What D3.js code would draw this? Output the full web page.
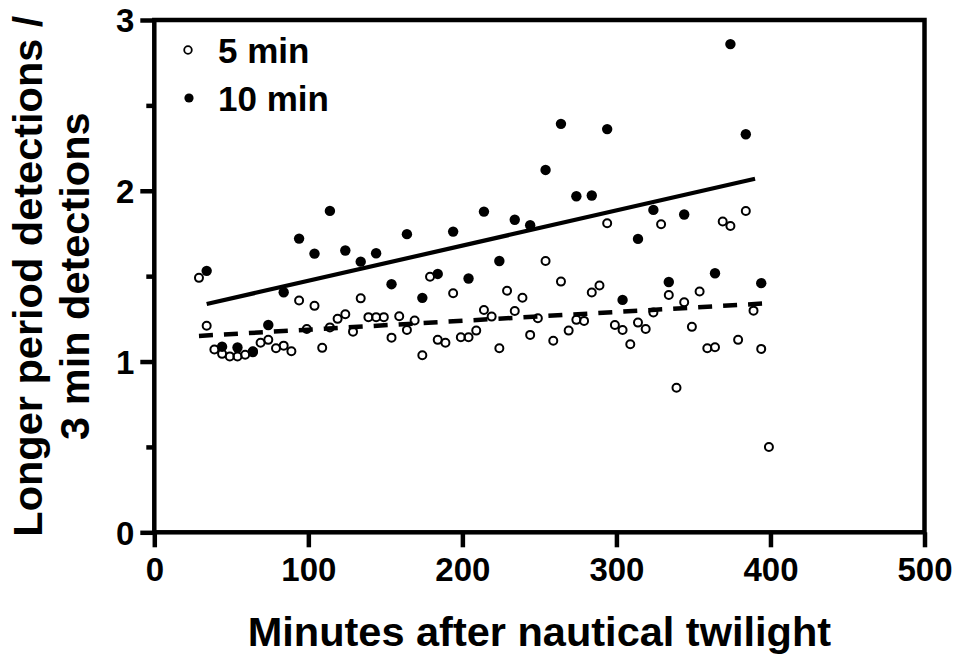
<!DOCTYPE html>
<html>
<head>
<meta charset="utf-8">
<script src="https://cdn.jsdelivr.net/npm/d3@7"></script>
<style>
  body { margin: 0; background: #fff; }
  svg text { font-family: "Liberation Sans", Arial, sans-serif; font-weight: bold; fill: #000; }
</style>
</head>
<body>
<div id="chart"></div>
<script>
// 5 min series (open circles), one point every 5 minutes
var minutes5 = [29, 34, 39, 44, 49, 54, 59, 64, 69, 74, 79, 84, 89, 94, 99, 104, 109, 114, 119, 124,
  129, 134, 139, 144, 149, 154, 159, 164, 169, 174, 179, 184, 189, 194, 199, 204, 209, 214, 219, 224,
  229, 234, 239, 244, 249, 254, 259, 264, 269, 274, 279, 284, 289, 294, 299, 304, 309, 314, 319, 324,
  329, 334, 339, 344, 349, 354, 359, 364, 369, 374, 379, 384, 389, 394, 399];
var ratio5 = [1.49, 1.21, 1.07, 1.045, 1.03, 1.03, 1.04, 1.06, 1.11, 1.127, 1.078, 1.093, 1.06, 1.357, 1.19, 1.326, 1.08, 1.2, 1.25, 1.277,
  1.175, 1.37, 1.26, 1.26, 1.26, 1.14, 1.265, 1.185, 1.24, 1.037, 1.496, 1.127, 1.11, 1.4, 1.142, 1.142, 1.181, 1.302, 1.263, 1.078,
  1.415, 1.296, 1.374, 1.156, 1.253, 1.589, 1.122, 1.468, 1.181, 1.244, 1.238, 1.404, 1.445, 1.81, 1.214, 1.185, 1.101, 1.228, 1.191, 1.287,
  1.804, 1.39, 0.847, 1.347, 1.203, 1.41, 1.078, 1.084, 1.82, 1.794, 1.127, 1.882, 1.298, 1.074, 0.5];

// 10 min series (filled circles)
var minutes10 = [34, 44, 54, 64, 74, 84, 94, 104, 114, 124, 134, 144, 154, 164, 174, 184, 194, 204,
  214, 224, 234, 244, 254, 264, 274, 284, 294, 304, 314, 324, 334, 344, 364, 374, 384, 394];
var ratio10 = [1.531, 1.087, 1.082, 1.056, 1.214, 1.406, 1.72, 1.632, 1.882, 1.65, 1.585, 1.634, 1.453, 1.746, 1.373, 1.513, 1.761, 1.486,
  1.878, 1.589, 1.83, 1.798, 2.122, 2.392, 1.968, 1.972, 2.361, 1.361, 1.718, 1.888, 1.466, 1.861, 1.517, 2.859, 2.331, 1.459];

// fitted lines: [minutes, ratio] at each end
var fit5 = [[29, 1.15], [396, 1.34]];
var fit10 = [[34, 1.337], [390, 2.07]];

var xTicks = [0, 100, 200, 300, 400, 500];
var yTicks = [0, 1, 2, 3];
var yMinorTicks = [0.5, 1.5, 2.5];

var width = 960, height = 654;
// plot box edges (avoid "top" which is a read-only window global)
var plotL = 154.3, plotR = 924.5, plotT = 20, plotB = 532.3;

var svg = d3.select("#chart").append("svg")
  .attr("width", width)
  .attr("height", height);

var x = d3.scaleLinear().domain([0, 500]).range([plotL, plotR]);
var y = d3.scaleLinear().domain([0, 3]).range([plotB, plotT]);

var axisW = 4.5;

// y axis
svg.append("g")
  .attr("transform", "translate(" + plotL + ",0)")
  .call(d3.axisLeft(y).tickValues(yTicks).tickFormat(d3.format("d")).tickSize(14).tickPadding(6))
  .call(function(g) {
    g.select(".domain").remove();
    g.selectAll(".tick line").attr("stroke", "#000").attr("stroke-width", axisW);
    g.selectAll(".tick text").style("font-size", "33px").attr("dy", "0.36em");
  });
svg.append("g")
  .attr("transform", "translate(" + plotL + ",0)")
  .call(d3.axisLeft(y).tickValues(yMinorTicks).tickFormat("").tickSize(8))
  .call(function(g) {
    g.select(".domain").remove();
    g.selectAll(".tick line").attr("stroke", "#000").attr("stroke-width", axisW);
  });

// x axis
svg.append("g")
  .attr("transform", "translate(0," + plotB + ")")
  .call(d3.axisBottom(x).tickValues(xTicks).tickFormat(d3.format("d")).tickSize(15).tickPadding(10))
  .call(function(g) {
    g.select(".domain").remove();
    g.selectAll(".tick line").attr("stroke", "#000").attr("stroke-width", axisW);
    g.selectAll(".tick text").style("font-size", "33px").attr("dy", "0.72em");
  });

// frame
svg.append("rect")
  .attr("x", plotL).attr("y", plotT)
  .attr("width", plotR - plotL).attr("height", plotB - plotT)
  .attr("fill", "none").attr("stroke", "#000").attr("stroke-width", axisW);

// points
svg.append("g").selectAll("circle")
  .data(minutes5.map(function(m, i) { return [m, ratio5[i]]; }))
  .enter().append("circle")
  .attr("cx", function(d) { return x(d[0]); })
  .attr("cy", function(d) { return y(d[1]); })
  .attr("r", 4)
  .attr("fill", "none")
  .attr("stroke", "#000")
  .attr("stroke-width", 2);

svg.append("g").selectAll("circle")
  .data(minutes10.map(function(m, i) { return [m, ratio10[i]]; }))
  .enter().append("circle")
  .attr("cx", function(d) { return x(d[0]); })
  .attr("cy", function(d) { return y(d[1]); })
  .attr("r", 5.2)
  .attr("fill", "#000");

// fit lines
var line = d3.line()
  .x(function(d) { return x(d[0]); })
  .y(function(d) { return y(d[1]); });

svg.append("path")
  .attr("d", line(fit10))
  .attr("fill", "none")
  .attr("stroke", "#000")
  .attr("stroke-width", 4.2);

svg.append("path")
  .attr("d", line(fit5))
  .attr("fill", "none")
  .attr("stroke", "#000")
  .attr("stroke-width", 4.5)
  .attr("stroke-dasharray", "14,11");

// legend
var legend = svg.append("g");
legend.append("circle")
  .attr("cx", 188).attr("cy", 50).attr("r", 3.8)
  .attr("fill", "none").attr("stroke", "#000").attr("stroke-width", 1.8);
legend.append("text")
  .attr("x", 218).attr("y", 63)
  .style("font-size", "35px")
  .text("5 min");
legend.append("circle")
  .attr("cx", 189).attr("cy", 98).attr("r", 4.6)
  .attr("fill", "#000");
legend.append("text")
  .attr("x", 218).attr("y", 111)
  .style("font-size", "35px")
  .text("10 min");

// axis titles
svg.append("text")
  .attr("x", (plotL + plotR) / 2)
  .attr("y", 646)
  .attr("text-anchor", "middle")
  .style("font-size", "41.5px")
  .text("Minutes after nautical twilight");

var yTitle = svg.append("text")
  .attr("transform", "translate(0," + ((plotT + plotB) / 2) + ") rotate(-90)")
  .attr("text-anchor", "middle")
  .style("font-size", "41.5px");
yTitle.append("tspan").attr("x", 0).attr("y", 42).text("Longer period detections /");
yTitle.append("tspan").attr("x", 0).attr("y", 89).text("3 min detections");
</script>
</body>
</html>
